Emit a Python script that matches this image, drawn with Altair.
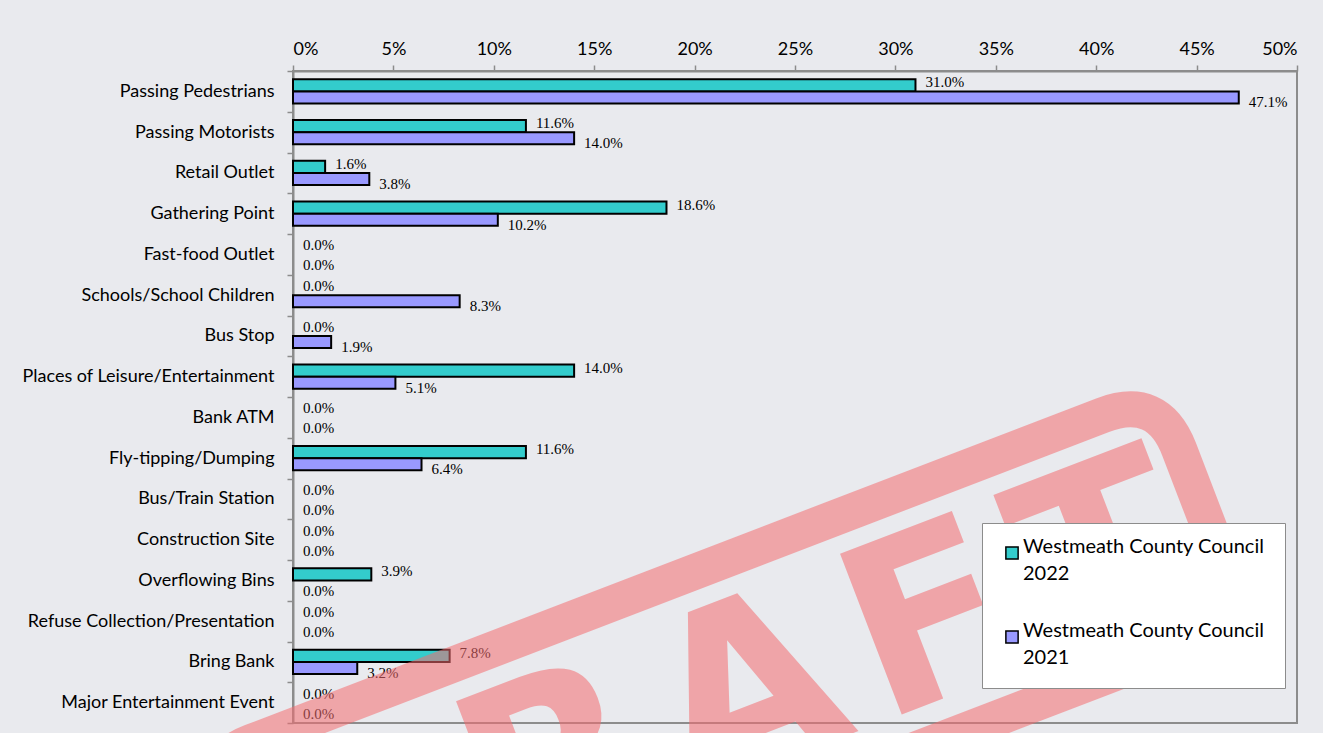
import altair as alt
import pandas as pd

categories = [
    "Passing Pedestrians", "Passing Motorists", "Retail Outlet", "Gathering Point",
    "Fast-food Outlet", "Schools/School Children", "Bus Stop",
    "Places of Leisure/Entertainment", "Bank ATM", "Fly-tipping/Dumping",
    "Bus/Train Station", "Construction  Site", "Overflowing Bins",
    "Refuse Collection/Presentation", "Bring Bank", "Major Entertainment Event",
]
values_2022 = [31.0, 11.6, 1.6, 18.6, 0.0, 0.0, 0.0, 14.0, 0.0, 11.6, 0.0, 0.0, 3.9, 0.0, 7.8, 0.0]
values_2021 = [47.1, 14.0, 3.8, 10.2, 0.0, 8.3, 1.9, 5.1, 0.0, 6.4, 0.0, 0.0, 0.0, 0.0, 3.2, 0.0]
series = ["Westmeath County Council 2022", "Westmeath County Council 2021"]
colors = ["#33CCCC", "#9999FF"]
x_ticks = [0, 0.05, 0.10, 0.15, 0.20, 0.25, 0.30, 0.35, 0.40, 0.45, 0.50]
watermark = ["D\u200aR\u200aA\u200aF\u200aT"]

rows = []
for c, v in zip(categories, values_2022):
    rows.append({"category": c, "series": series[0], "value": v / 100})
for c, v in zip(categories, values_2021):
    rows.append({"category": c, "series": series[1], "value": v / 100})
df = pd.DataFrame(rows)

GRAY = "#8c8c8c"
BG = "#E9EAEE"
base = alt.Chart(df)

x_enc = alt.X(
    "value:Q",
    scale=alt.Scale(domain=[0, 0.5], nice=False, zero=True),
    axis=alt.Axis(orient="top", format=".0%", values=x_ticks, title=None, grid=False,
                  labelFont="Lato", labelFontSize=18, labelColor="black",
                  labelPadding=7, tickSize=6),
)
y_enc = alt.Y(
    "category:N", sort=categories,
    scale=alt.Scale(paddingInner=0, paddingOuter=0),
    axis=alt.Axis(title=None, tickBand="extent", labelFont="Lato", labelFontSize=18,
                  labelColor="black", labelPadding=13, tickSize=6, labelLimit=400),
)
yoff_enc = alt.YOffset("series:N", sort=series,
                       scale=alt.Scale(paddingInner=0, paddingOuter=0.667))

bars = base.transform_filter("datum.value > 0").mark_bar(
    stroke="black", strokeWidth=2
).encode(
    x=x_enc, y=y_enc, yOffset=yoff_enc,
    color=alt.Color(
        "series:N", sort=series,
        scale=alt.Scale(domain=series, range=colors),
        legend=alt.Legend(
            title=None, orient="none", legendX=689, legendY=452, direction="vertical",
            fillColor="white", strokeColor=GRAY, padding=20,
            labelFont="Lato", labelFontSize=20, labelColor="black", labelLimit=400,
            labelBaseline="alphabetic", labelOffset=1,
            labelExpr="[slice(datum.label, 0, 24), slice(datum.label, 25)]",
            symbolType="square", symbolSize=150, symbolStrokeColor="black",
            symbolStrokeWidth=1.5, symbolOpacity=1, rowPadding=37,
        ),
    ),
)

label_font = dict(font="Liberation Serif", fontSize=15, color="black", align="left",
                  baseline="middle", dx=10)

t22 = base.transform_filter(alt.datum.series == series[0]).mark_text(dy=-3, **label_font).encode(
    x="value:Q", y=alt.Y("category:N", sort=categories), yOffset=alt.YOffset("series:N", sort=series),
    text=alt.Text("value:Q", format=".1%"),
)
t21 = base.transform_filter(alt.datum.series == series[1]).mark_text(dy=5, **label_font).encode(
    x="value:Q", y=alt.Y("category:N", sort=categories), yOffset=alt.YOffset("series:N", sort=series),
    text=alt.Text("value:Q", format=".1%"),
)

wm_df = pd.DataFrame({"text": watermark})
WM = "#F46C6F"
frame_path = ("M -0.885 -0.238 L 0.885 -0.238 Q 1 -0.238 1 -0.123 L 1 0.123 "
              "Q 1 0.238 0.885 0.238 L -0.885 0.238 Q -1 0.238 -1 0.123 L -1 -0.123 "
              "Q -1 -0.238 -0.885 -0.238 Z")
wm_frame = alt.Chart(wm_df).mark_point(
    shape=frame_path, filled=False, stroke=WM, strokeWidth=36, opacity=1,
    strokeOpacity=0.55, angle=339, size=1030 * 1030,
).encode(x=alt.value(428), y=alt.value(622))
wm_text = alt.Chart(wm_df).mark_text(
    font="DejaVu Sans", fontWeight="bold", fontSize=236, angle=339, color=WM,
    opacity=0.55, align="center", baseline="middle",
).encode(text="text:N", x=alt.value(430), y=alt.value(636))

chart = alt.layer(bars, t22, t21, wm_frame, wm_text).properties(
    width=1004, height=652,
    padding={"left": 293, "top": 71, "right": 26, "bottom": 10},
    autosize=alt.AutoSizeParams(type="none"),
    background=BG,
).configure(
    style={"guide-label": {"lineHeight": 27}},
).configure_view(
    stroke=GRAY, strokeWidth=2,
).configure_axis(
    domainColor=GRAY, domainWidth=2, tickColor=GRAY, tickWidth=1.5,
)

chart.save("out.html", embed_options={"renderer": "svg", "actions": False})
